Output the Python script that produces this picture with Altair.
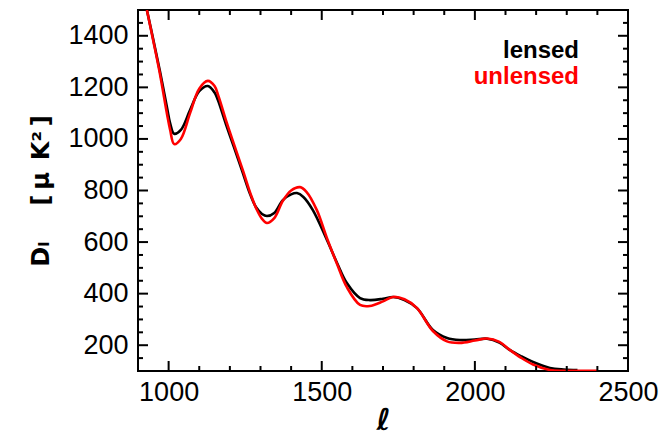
import altair as alt
import pandas as pd

# Multipole and band power D_ell for the lensed and unlensed spectra
ell_lensed = [929, 950, 972, 995, 1005, 1018, 1040, 1070, 1100, 1128,
              1150, 1161, 1187, 1213, 1240, 1266, 1285, 1305, 1321, 1345,
              1373, 1400, 1419, 1440, 1471, 1517, 1550, 1582, 1625, 1657,
              1700, 1733, 1770, 1811, 1863, 1909, 1951, 2000, 2040, 2080,
              2115, 2150, 2190, 2245, 2290, 2335]
dl_lensed = [1500, 1385, 1260, 1120, 1060, 1020, 1035, 1112, 1185, 1205,
             1180, 1151, 1058, 969, 876, 786, 736, 709, 701, 713,
             763, 785, 790, 775, 724, 608, 519, 441, 383, 375,
             380, 387, 375, 344, 259, 228, 220, 222, 225, 210,
             181, 158, 135, 112, 106, 104]

ell_unlensed = [929, 950, 972, 995, 1005, 1018, 1040, 1070, 1100, 1128,
                1150, 1163, 1190, 1216, 1243, 1269, 1287, 1305, 1321, 1345,
                1373, 1400, 1429, 1450, 1484, 1517, 1550, 1582, 1625, 1657,
                1700, 1733, 1770, 1811, 1863, 1909, 1951, 2000, 2040, 2080,
                2115, 2150, 2190, 2245, 2290, 2340, 2400]
dl_unlensed = [1500, 1380, 1250, 1095, 1035, 980, 1000, 1100, 1195, 1225,
               1205, 1165, 1062, 970, 876, 782, 728, 690, 674, 693,
               760, 800, 813, 795, 724, 615, 515, 425, 356, 352,
               370, 387, 378, 344, 255, 215, 209, 218, 226, 213,
               181, 152, 125, 104, 101, 101, 101]

# Axis ticks (major labelled, minor unlabelled), drawn inward on all four sides
x_major = [1000, 1500, 2000, 2500]
x_minor = [1100, 1200, 1300, 1400, 1600, 1700, 1800, 1900, 2100, 2200, 2300, 2400]
y_major = [200, 400, 600, 800, 1000, 1200, 1400]
y_minor = [150, 250, 300, 350, 450, 500, 550, 650, 700, 750, 850, 900, 950,
           1050, 1100, 1150, 1250, 1300, 1350, 1450]

# Legend text entries
legend_labels = ["lensed", "unlensed"]
legend_colors = ["black", "#ff0000"]
legend_x = [2340, 2340]
legend_y = [1342, 1240]

W, H = 490, 361
FONT = "Liberation Sans"

xscale = alt.Scale(domain=[900, 2500], nice=False, zero=False)
yscale = alt.Scale(domain=[100, 1500], nice=False, zero=False)

# One shared axis definition per channel, reused by every layer
x_axis = alt.Axis(values=x_major, format="d", ticks=False, domain=False, grid=False,
                  labelFont=FONT, labelFontSize=27, labelColor="black",
                  labelPadding=8, labelFlush=False,
                  title="ℓ", titleFont="DejaVu Sans", titleFontSize=30,
                  titleFontStyle="italic", titleFontWeight="bold",
                  titleColor="black", titlePadding=0)
y_axis = alt.Axis(values=y_major, format="d", ticks=False, domain=False, grid=False,
                  labelFont=FONT, labelFontSize=27, labelColor="black",
                  labelPadding=10, labelFlush=False,
                  title="D\u2097\u2003\u2002[\u2009\u03bc\u2002K\u00b2\u2009]",
                  titleFont="DejaVu Sans",
                  titleFontSize=24, titleFontWeight="bold",
                  titleColor="black", titlePadding=14)


def X(field):
    return alt.X(field, scale=xscale, axis=x_axis)


def Y(field):
    return alt.Y(field, scale=yscale, axis=y_axis)


lensed = pd.DataFrame({"ell": ell_lensed, "dl": dl_lensed})
unlensed = pd.DataFrame({"ell": ell_unlensed, "dl": dl_unlensed})

black_line = alt.Chart(lensed).mark_line(
    color="black", strokeWidth=2.6, interpolate="catmull-rom", clip=True
).encode(x=X("ell:Q"), y=Y("dl:Q"))

red_line = alt.Chart(unlensed).mark_line(
    color="#ff0000", strokeWidth=2.6, interpolate="catmull-rom", clip=True
).encode(x=X("ell:Q"), y=Y("dl:Q"))


def xticks(vals, length):
    df = pd.DataFrame({"ell": vals})
    base = alt.Chart(df).mark_rule(color="black", strokeWidth=2)
    bottom = base.encode(x=X("ell:Q"), y=alt.value(H), y2=alt.value(H - length))
    top = base.encode(x=X("ell:Q"), y=alt.value(0), y2=alt.value(length))
    return [bottom, top]


def yticks(vals, length):
    df = pd.DataFrame({"dl": vals})
    base = alt.Chart(df).mark_rule(color="black", strokeWidth=2)
    left = base.encode(y=Y("dl:Q"), x=alt.value(0), x2=alt.value(length))
    right = base.encode(y=Y("dl:Q"), x=alt.value(W), x2=alt.value(W - length))
    return [left, right]


tick_layers = (xticks(x_major, 10) + xticks(x_minor, 5)
               + yticks(y_major, 10) + yticks(y_minor, 5))

legend_df = pd.DataFrame({"label": legend_labels, "c": legend_colors,
                          "ell": legend_x, "dl": legend_y})
legend = alt.Chart(legend_df).mark_text(
    align="right", baseline="middle", font=FONT, fontSize=24, fontWeight="bold"
).encode(
    x=X("ell:Q"),
    y=Y("dl:Q"),
    text="label:N",
    color=alt.Color("c:N", scale=None, legend=None),
)

chart = alt.layer(black_line, red_line, *tick_layers, legend).properties(
    width=W, height=H,
    autosize=alt.AutoSizeParams(type="none"),
    padding={"left": 138, "top": 10, "right": 42, "bottom": 64},
    background="white",
).configure_view(stroke="black", strokeWidth=2)

chart.save("out.html", embed_options={"renderer": "svg", "actions": False})
